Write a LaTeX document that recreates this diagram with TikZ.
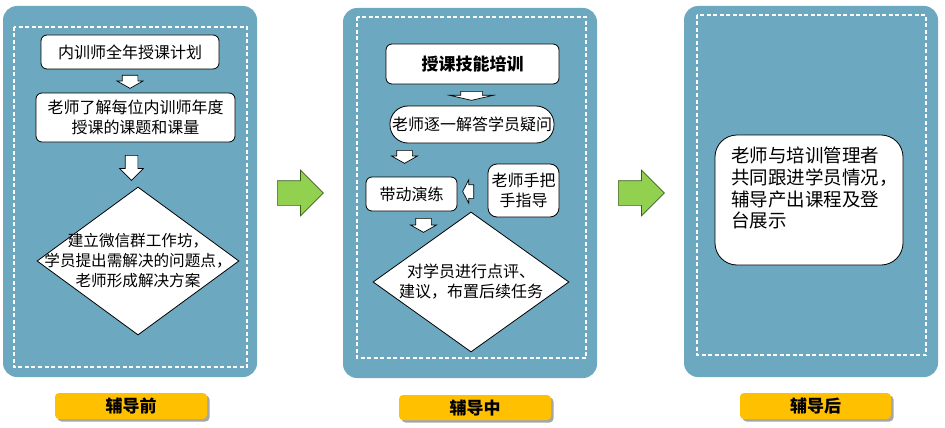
\documentclass[tikz,border=0pt]{standalone}
\usepackage{fontspec}
\setmainfont{Noto Sans CJK SC}
\usetikzlibrary{shapes.geometric, shapes.arrows, shadows, positioning}
\definecolor{panneauBleu}{RGB}{108,168,191}
\definecolor{etiquetteJaune}{RGB}{255,192,0}
\definecolor{flecheVert}{RGB}{146,208,80}
\definecolor{flecheBord}{RGB}{62,92,34}

\tikzset{
  panneau/.style={fill=panneauBleu, rounded corners=14pt},
  cadre/.style={draw=white, line width=1.2pt, dash pattern=on 4pt off 2.5pt},
  boite/.style={draw=black, fill=white, line width=0.8pt, rounded corners=6pt,
    align=center, inner sep=0pt, font=\fontsize{16}{19.5}\selectfont},
  losange/.style={diamond, draw=black, fill=white, line width=0.8pt, inner sep=0pt},
  texte/.style={align=center, inner sep=0pt, font=\fontsize{15.6}{20}\selectfont},
  etiquette/.style={fill=etiquetteJaune, rounded corners=4pt, inner sep=0pt,
    minimum width=152pt, minimum height=26pt, font=\bfseries\fontsize{17}{20}\selectfont,
    drop shadow={shadow xshift=2.5pt, shadow yshift=-2.5pt, opacity=0.35, fill=black}},
  % longueur, demi-fut, debord de la tete, angle de la pointe
  fleche/.style n args={4}{single arrow, draw=black, fill=white, line width=0.7pt,
    text height=0pt, text depth=0pt, inner xsep=0pt, inner ysep=#2,
    single arrow head extend=#3, single arrow tip angle=#4,
    minimum height=#1, minimum width=0pt, anchor=tail},
  grossefleche/.style={single arrow, draw=flecheBord, fill=flecheVert, line width=0.7pt,
    text height=0pt, text depth=0pt, inner xsep=0pt, inner ysep=12pt,
    single arrow head extend=10.5pt, single arrow tip angle=90,
    minimum height=46pt, minimum width=0pt, anchor=tail}
}

\begin{document}
\begin{tikzpicture}[x=1pt, y=-1pt]
    \useasboundingbox (0,0) rectangle (945,428);

    % Panneaux
    \fill[panneau] (3,6) rectangle (257,377);
    \draw[cadre] (14,27) rectangle (247,367);
    \fill[panneau] (343,8) rectangle (597,378);
    \draw[cadre] (357,17) rectangle (586,358);
    \fill[panneau] (684,6) rectangle (938,377);
    \draw[cadre] (697,15) rectangle (926,355);

    % Avant
    \node[boite, minimum width=178pt, minimum height=34pt] (plan) at (130,52) {内训师全年授课计划};
    \node[fleche={13pt}{7.5pt}{5pt}{121}, rotate=-90] (f1) at (130,75) {};
    \node[boite, minimum width=199pt, minimum height=49pt] (sujets) at (135.5,117.5)
        {老师了解每位内训师年度\\授课的课题和课量};
    \node[fleche={25pt}{6pt}{5.5pt}{90}, rotate=-90] (f2) at (131.5,155) {};
    \node[losange, minimum width=202pt, minimum height=148pt] (atelier) at (138,261) {};
    \node[texte] (ateliert) at (atelier) {建立微信群工作坊，\\学员提出需解决的问题点，\\老师形成解决方案};

    % Pendant
    \node[boite, minimum width=173pt, minimum height=40pt, font=\bfseries\fontsize{17}{20}\selectfont]
        (formation) at (472.5,64) {授课技能培训};
    \node[fleche={9pt}{10.5pt}{11pt}{154}, rotate=-90] (g1) at (471.5,91) {};
    \node[boite, rounded corners=18pt, minimum width=164pt, minimum height=37pt]
        (reponses) at (472,124.5) {老师逐一解答学员疑问};
    \node[fleche={13pt}{7.5pt}{5pt}{121}, rotate=-90] (g2) at (404.5,150) {};
    \node[boite, minimum width=91pt, minimum height=34pt] (exercices) at (411.5,194) {带动演练};
    \node[boite, rounded corners=9pt, minimum width=71pt, minimum height=53pt]
        (guidage) at (523.5,190.5) {老师手把\\手指导};
    \node[fleche={11pt}{6.5pt}{5pt}{125}, rotate=180] (g3) at (474,191.5) {};
    \node[fleche={14pt}{7.5pt}{5pt}{121}, rotate=-90] (g4) at (423.5,218) {};
    \node[losange, minimum width=196pt, minimum height=140pt] (bilan) at (471,282) {};
    \node[texte, font=\fontsize{16}{20}\selectfont] (bilant) at (bilan) {对学员进行点评、\\建议，布置后续任务};

    % Apres
    \node[boite, rounded corners=22pt, minimum width=188pt, minimum height=130pt] (suivi) at (809,200) {};
    \node[align=left, inner sep=0pt, anchor=north west, font=\fontsize{18.5}{21.7}\selectfont]
        (suivit) at (731,147) {老师与培训管理者\\共同跟进学员情况，\\辅导产出课程及登\\台展示};

    % Grosses fleches
    \node[grossefleche] (v1) at (277,193) {};
    \node[grossefleche] (v2) at (618,193) {};

    % Etiquettes
    \node[etiquette] (avant) at (131,406) {辅导前};
    \node[etiquette, minimum height=25pt] (pendant) at (475,407.5) {辅导中};
    \node[etiquette, minimum width=151pt] (apres) at (815.5,406) {辅导后};
\end{tikzpicture}
\end{document}
